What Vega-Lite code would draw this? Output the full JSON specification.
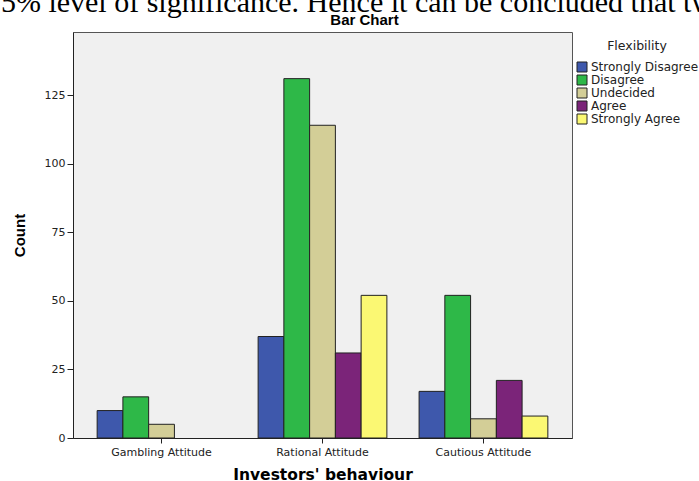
{
  "$schema": "https://vega.github.io/schema/vega-lite/v6.json",
  "width": 499,
  "height": 406,
  "autosize": {"type": "none"},
  "padding": {"left": 73, "top": 32, "right": 127, "bottom": 43},
  "background": "white",
  "title": {
    "text": "5% level of significance. Hence it can be concluded that two",
    "subtitle": "Bar Chart",
    "anchor": "middle",
    "dx": 42,
    "font": "Liberation Serif",
    "fontSize": 30,
    "fontWeight": "normal",
    "color": "black",
    "subtitleFont": "Liberation Sans",
    "subtitleFontSize": 15,
    "subtitleFontWeight": "bold",
    "subtitleColor": "black",
    "subtitlePadding": -5,
    "offset": 4
  },
  "data": {
    "values": [
      {"behaviour": "Gambling Attitude", "flex": "Strongly Disagree", "count": 10},
      {"behaviour": "Gambling Attitude", "flex": "Disagree", "count": 15},
      {"behaviour": "Gambling Attitude", "flex": "Undecided", "count": 5},
      {"behaviour": "Rational Attitude", "flex": "Strongly Disagree", "count": 37},
      {"behaviour": "Rational Attitude", "flex": "Disagree", "count": 131},
      {"behaviour": "Rational Attitude", "flex": "Undecided", "count": 114},
      {"behaviour": "Rational Attitude", "flex": "Agree", "count": 31},
      {"behaviour": "Rational Attitude", "flex": "Strongly Agree", "count": 52},
      {"behaviour": "Cautious Attitude", "flex": "Strongly Disagree", "count": 17},
      {"behaviour": "Cautious Attitude", "flex": "Disagree", "count": 52},
      {"behaviour": "Cautious Attitude", "flex": "Undecided", "count": 7},
      {"behaviour": "Cautious Attitude", "flex": "Agree", "count": 21},
      {"behaviour": "Cautious Attitude", "flex": "Strongly Agree", "count": 8}
    ]
  },
  "mark": {"type": "bar", "stroke": "#222222", "strokeWidth": 1},
  "encoding": {
    "x": {
      "field": "behaviour",
      "type": "nominal",
      "sort": ["Gambling Attitude", "Rational Attitude", "Cautious Attitude"],
      "scale": {"paddingInner": 0.2, "paddingOuter": 0.15},
      "axis": {
        "title": "Investors' behaviour",
        "labelAngle": 0,
        "labelFont": "DejaVu Sans",
        "labelFontSize": 11,
        "labelColor": "#222222",
        "labelPadding": 3,
        "tickSize": 5,
        "tickColor": "#222222",
        "domainColor": "#222222",
        "titleFont": "DejaVu Sans",
        "titleFontSize": 15.5,
        "titleFontWeight": "bold",
        "titleColor": "black",
        "titlePadding": 10
      }
    },
    "xOffset": {
      "field": "flex",
      "type": "nominal",
      "scale": {"domain": ["Strongly Disagree", "Disagree", "Undecided", "Agree", "Strongly Agree"], "paddingInner": 0, "paddingOuter": 0}
    },
    "y": {
      "field": "count",
      "type": "quantitative",
      "scale": {"domain": [0, 148], "nice": false},
      "axis": {
        "title": "Count",
        "values": [0, 25, 50, 75, 100, 125],
        "grid": false,
        "labelFont": "DejaVu Sans",
        "labelFontSize": 11,
        "labelColor": "#222222",
        "labelPadding": 2,
        "tickSize": 6,
        "tickColor": "#222222",
        "domainColor": "#222222",
        "titleFont": "Liberation Sans",
        "titleFontSize": 15,
        "titleFontWeight": "bold",
        "titleColor": "black",
        "titlePadding": 17
      }
    },
    "color": {
      "field": "flex",
      "type": "nominal",
      "scale": {
        "domain": ["Strongly Disagree", "Disagree", "Undecided", "Agree", "Strongly Agree"],
        "range": ["#3e58ac", "#2eb848", "#d3ce97", "#7b2479", "#fbf873"]
      },
      "legend": {
        "title": "Flexibility",
        "orient": "right",
        "offset": -4,
        "padding": 8,
        "titleFont": "DejaVu Sans",
        "titleFontSize": 12.5,
        "titleFontWeight": "normal",
        "titleColor": "#222222",
        "titleAnchor": "middle",
        "titlePadding": 8,
        "labelFont": "DejaVu Sans",
        "labelFontSize": 12,
        "labelColor": "#222222",
        "labelOffset": 3,
        "labelLimit": 200,
        "symbolType": "square",
        "symbolSize": 100,
        "symbolStrokeColor": "#222222",
        "symbolStrokeWidth": 1,
        "symbolOpacity": 1,
        "clipHeight": 13,
        "rowPadding": 0
      }
    }
  },
  "config": {
    "view": {"fill": "#f0f0f0", "stroke": "#555555", "strokeWidth": 1}
  }
}
